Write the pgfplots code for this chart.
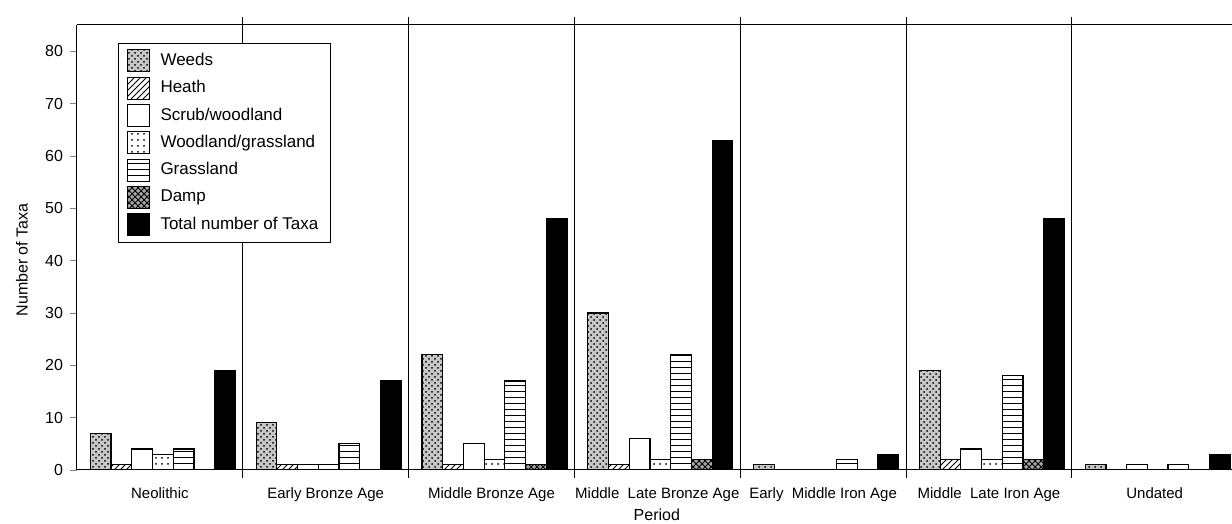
\documentclass[border=0pt]{standalone}
\usepackage{fontspec}
\setmainfont{Liberation Sans}
\usepackage{pgfplots}
\pgfplotsset{compat=1.18}
\usepackage{pgfplotstable}
\usetikzlibrary{patterns}

% number of taxa per ecological group, one row per period
\pgfplotstableread{
x weeds heath scrub wg grass damp total
0 7  1 4 3 4  0 19
1 9  1 1 1 5  0 17
2 22 1 5 2 17 1 48
3 30 1 6 2 22 2 63
4 1  0 0 0 2  0 3
5 19 2 4 2 18 2 48
6 1  0 1 0 1  0 3
}\taxa

\begin{document}
\begin{tikzpicture}
    \begin{axis}[
        scale only axis,
        width=577.5pt, height=222.5pt,
        xmin=-0.5, xmax=6.466,
        ymin=0, ymax=85,
        axis x line*=box, axis y line*=left,
        axis line style={line width=0.5pt},
        ybar,
        bar width=0.125,
        ytick={0,10,...,80},
        ytick pos=left,
        tick align=outside,
        major tick length=3.5pt,
        xtick={0,...,6},
        xticklabels={Neolithic, Early Bronze Age, Middle Bronze Age, Middle\ \ Late Bronze Age, Early\ \ Middle Iron Age, Middle\ \ Late Iron Age, Undated},
        xtick style={draw=none},
        extra x ticks={0.5,1.5,...,5.5},
        extra x tick labels={},
        extra x tick style={grid=major, major grid style={black, line width=0.5pt},
            xtick style={draw=black, line width=0.5pt}, major tick length=4pt},
        /pgf/number format/assume math mode=true,
        tick label style={font=\fontsize{8}{9.6}\selectfont},
        xticklabel style={font=\fontsize{7.5}{9}\selectfont, yshift=-2pt},
        label style={font=\fontsize{8}{9.6}\selectfont},
        xlabel={Period},
        ylabel={Number of Taxa},
        xlabel style={at={(axis description cs:0.502,-0.1)}, anchor=center},
        ylabel style={at={(axis description cs:-0.0476,0.472)}, anchor=center},
        legend style={at={(axis description cs:0.0355,0.96)}, anchor=north west,
            draw=black, line width=0.5pt, font=\fontsize{8.5}{10}\selectfont,
            row sep=2pt, inner xsep=4pt, inner ysep=3pt,
            /tikz/every odd column/.append style={column sep=3.5pt}},
        legend cell align=left,
        legend image code/.code={\draw[#1, line width=0.5pt] (0pt,-5.5pt) rectangle (11pt,5.5pt);},
    ]
        \addplot[draw=black, line width=0.6pt, bar shift=-0.357, fill=black!22,
            postaction={pattern=crosshatch dots}]
            table[x=x, y=weeds]{\taxa};
        \addlegendentry{Weeds}
        \addplot[draw=black, line width=0.6pt, bar shift=-0.232, pattern=north east lines]
            table[x=x, y=heath]{\taxa};
        \addlegendentry{Heath}
        \addplot[draw=black, line width=0.6pt, bar shift=-0.107, fill=white]
            table[x=x, y=scrub]{\taxa};
        \addlegendentry{Scrub/woodland}
        \addplot[draw=black, line width=0.6pt, bar shift=0.018, pattern=dots]
            table[x=x, y=wg]{\taxa};
        \addlegendentry{Woodland/grassland}
        \addplot[draw=black, line width=0.6pt, bar shift=0.143, pattern=horizontal lines]
            table[x=x, y=grass]{\taxa};
        \addlegendentry{Grassland}
        \addplot[draw=black, line width=0.6pt, bar shift=0.268, fill=black!35,
            postaction={pattern=crosshatch}]
            table[x=x, y=damp]{\taxa};
        \addlegendentry{Damp}
        \addplot[draw=black, line width=0.6pt, bar shift=0.393, fill=black]
            table[x=x, y=total]{\taxa};
        \addlegendentry{Total number of Taxa}
    \end{axis}
    \pgfresetboundingbox
    \path[use as bounding box] (-38.5pt,-27pt) rectangle (577.5pt,235pt);
\end{tikzpicture}
\end{document}
